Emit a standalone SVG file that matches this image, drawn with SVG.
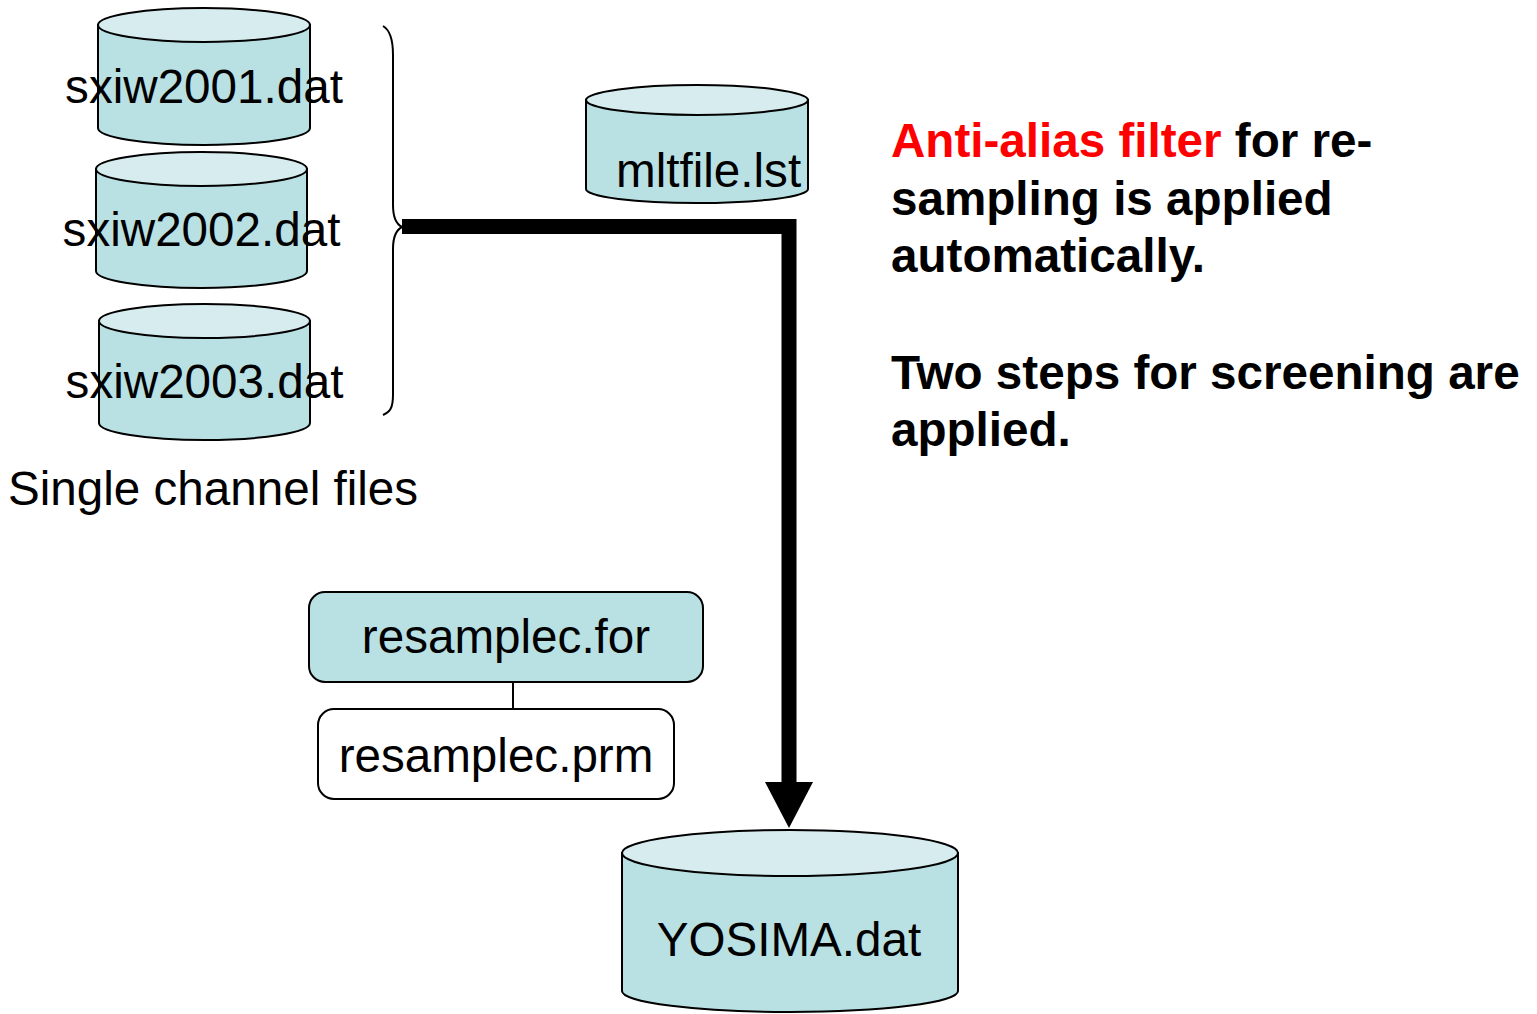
<svg xmlns="http://www.w3.org/2000/svg" width="1537" height="1014" viewBox="0 0 1537 1014">
  <style>
    .side { fill: #B9E0E3; stroke: #000; stroke-width: 2; }
    .top { fill: #D7ECEF; stroke: #000; stroke-width: 2; }
    .box { stroke: #000; stroke-width: 2; }
    .lbl { font-family: "Liberation Sans", Arial, sans-serif; font-size: 47.6px; fill: #000; }
    .note { font-family: "Liberation Sans", Arial, sans-serif; font-size: 47.6px; font-weight: bold; fill: #000; }
    .red { fill: #FF0000; }
  </style>
  <rect width="1537" height="1014" fill="#FFFFFF"/>

  <!-- input channel files -->
  <g id="sxiw2001">
    <path class="side" d="M98,25 V128 A106,17 0 0 0 310,128 V25 Z"/>
    <ellipse class="top" cx="204" cy="25" rx="106" ry="17"/>
    <text class="lbl" x="204" y="103" text-anchor="middle">sxiw2001.dat</text>
  </g>
  <g id="sxiw2002">
    <path class="side" d="M96,169 V271 A105.5,17 0 0 0 307,271 V169 Z"/>
    <ellipse class="top" cx="201.5" cy="169" rx="105.5" ry="17"/>
    <text class="lbl" x="201.5" y="246" text-anchor="middle">sxiw2002.dat</text>
  </g>
  <g id="sxiw2003">
    <path class="side" d="M99,321 V423 A105.5,17 0 0 0 310,423 V321 Z"/>
    <ellipse class="top" cx="204.5" cy="321" rx="105.5" ry="17"/>
    <text class="lbl" x="204.5" y="398" text-anchor="middle">sxiw2003.dat</text>
  </g>
  <g id="caption">
    <text class="lbl" x="8" y="505">Single channel files</text>
  </g>

  <!-- list file -->
  <g id="mltfile">
    <path class="side" d="M586,100 V189 A111,14 0 0 0 808,189 V100 Z"/>
    <ellipse class="top" cx="697" cy="100" rx="111" ry="15"/>
    <text class="lbl" x="616" y="187">mltfile.lst</text>
  </g>

  <!-- program and parameter file -->
  <g id="resamplec-for">
    <rect class="box" x="309" y="592" width="394" height="90" rx="16" fill="#B9E0E3"/>
    <text class="lbl" x="506" y="653" text-anchor="middle">resamplec.for</text>
  </g>
  <g id="resamplec-prm">
    <rect class="box" x="318" y="709" width="356" height="90" rx="16" fill="#FFFFFF"/>
    <text class="lbl" x="496" y="772" text-anchor="middle">resamplec.prm</text>
  </g>

  <!-- output file -->
  <g id="yosima">
    <path class="side" d="M622,853 V991 A168,21 0 0 0 958,991 V853 Z"/>
    <ellipse class="top" cx="790" cy="853" rx="168" ry="23"/>
    <text class="lbl" x="789" y="956" text-anchor="middle">YOSIMA.dat</text>
  </g>

  <!-- notes -->
  <g id="notes">
    <text class="note" x="891" y="157"><tspan class="red">Anti-alias filter</tspan> for re-</text>
    <text class="note" x="891" y="215">sampling is applied</text>
    <text class="note" x="891" y="272">automatically.</text>
    <text class="note" x="891" y="389">Two steps for screening are</text>
    <text class="note" x="891" y="446">applied.</text>
  </g>

  <!-- connectors -->
  <g id="connectors">
    <path d="M383,26 C390,30 393,40 393,55 V205 C393,218 396,224 402,227 C396,230 393,236 393,249 V395 C393,408 390,412 383,415" fill="none" stroke="#000" stroke-width="2"/>
    <path d="M402,226.5 H789 V784" fill="none" stroke="#000" stroke-width="15"/>
    <polygon points="765,782 813,782 789,828" fill="#000"/>
    <line x1="513" y1="682" x2="513" y2="709" stroke="#000" stroke-width="2"/>
  </g>
</svg>
